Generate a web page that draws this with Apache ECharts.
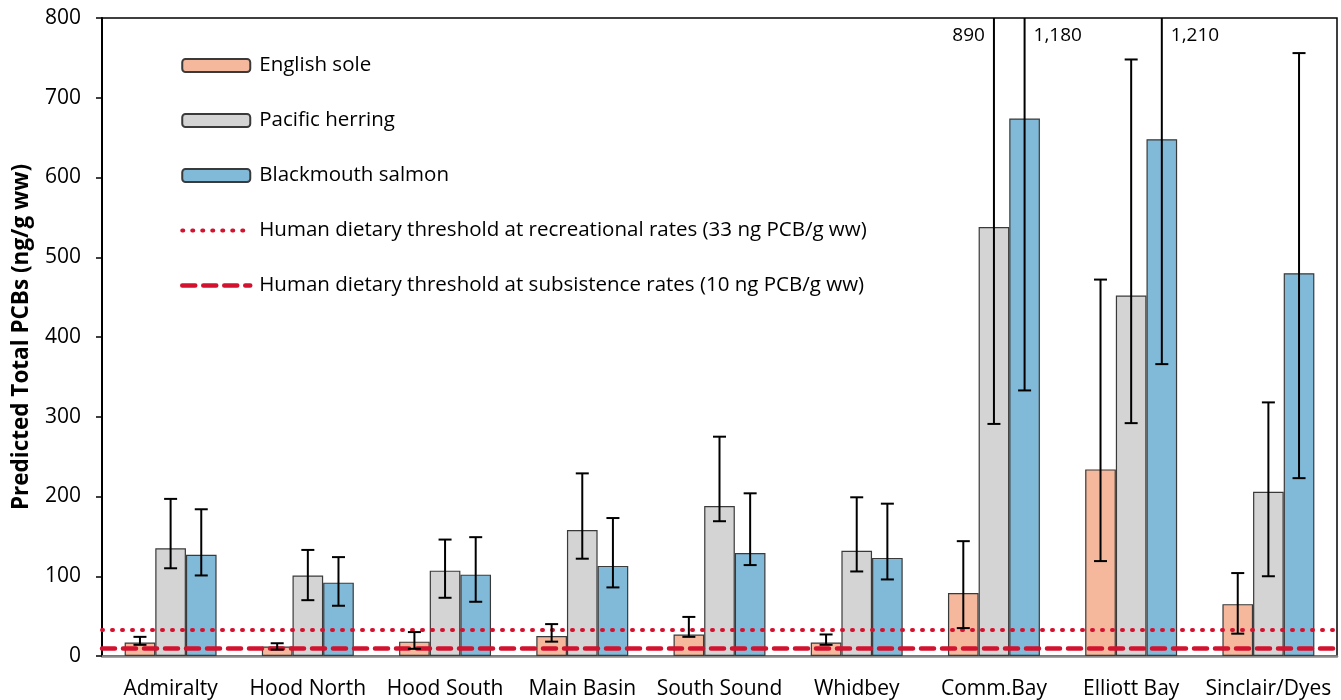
<!DOCTYPE html>
<html>
<head>
<meta charset="utf-8">
<script src="https://cdn.jsdelivr.net/npm/echarts@6/dist/echarts.min.js"></script>
<style>
  html, body { margin: 0; padding: 0; background: #fff; }
  #chart { width: 1341px; height: 700px; }
</style>
</head>
<body>
<div id="chart"></div>
<script>
// basins
var categories = ['Admiralty', 'Hood North', 'Hood South', 'Main Basin', 'South Sound', 'Whidbey', 'Comm.Bay', 'Elliott Bay', 'Sinclair/Dyes'];

// English sole
var sole = [17, 12, 18, 25, 27, 17, 79, 234, 65];
var soleLo = [14, 8, 9, 18, 24, 14, 35, 119, 28];
var soleHi = [24, 16, 30, 40, 49, 27, 144, 472, 104];

// Pacific herring
var herring = [135, 101, 107, 158, 188, 132, 538, 452, 206];
var herringLo = [110, 70, 73, 122, 169, 106, 291, 292, 100];
var herringHi = [197, 133, 146, 229, 275, 199, 890, 748, 318];

// Blackmouth salmon
var salmon = [127, 92, 102, 113, 129, 123, 674, 648, 480];
var salmonLo = [101, 63, 68, 86, 114, 96, 333, 366, 223];
var salmonHi = [184, 124, 149, 173, 204, 191, 1180, 1210, 756];

// thresholds (ng PCB/g ww)
var recreational = 33;
var subsistence = 10;

var yMax = 800;
var FONT = 'Open Sans';
var RED = '#D2122E';
var recName = 'Human dietary threshold at recreational rates (33 ng PCB/g ww)';
var subName = 'Human dietary threshold at subsistence rates (10 ng PCB/g ww)';

var chart = echarts.init(document.getElementById('chart'));

// error bars drawn on top of the bars, slot = position in the group
function errorBars(lo, hi, slot) {
  var data = categories.map(function (c, i) { return [i, lo[i], hi[i]]; });
  return {
    type: 'custom',
    silent: true,
    clip: true,
    z: 5,
    data: data,
    encode: { x: 0, y: [1, 2] },
    renderItem: function (params, api) {
      var i = api.value(0);
      var band = api.size([1, 0])[0];
      var bw = band * 0.67 / 3;
      var x = api.coord([i, 0])[0] + (slot - 1) * bw;
      var lowV = api.value(1), highV = api.value(2);
      var yLo = api.coord([i, lowV])[1];
      var yHi = api.coord([i, Math.min(highV, yMax)])[1];
      var cap = 6.5;
      var st = { stroke: '#000', lineWidth: 2 };
      var kids = [
        { type: 'line', shape: { x1: x, y1: yLo, x2: x, y2: yHi }, style: st },
        { type: 'line', shape: { x1: x - cap, y1: yLo, x2: x + cap, y2: yLo }, style: st }
      ];
      if (highV <= yMax) {
        kids.push({ type: 'line', shape: { x1: x - cap, y1: yHi, x2: x + cap, y2: yHi }, style: st });
      } else {
        // whisker runs off the top: write its value next to it
        var left = slot === 1;
        kids.push({
          type: 'text',
          style: {
            x: left ? x - 9 : x + 9,
            y: params.coordSys.y + 18,
            text: echarts.format.addCommas(highV),
            align: left ? 'right' : 'left',
            verticalAlign: 'middle',
            fill: '#000',
            font: '19px "' + FONT + '"'
          }
        });
      }
      return { type: 'group', children: kids };
    }
  };
}

function barSeries(name, data, color) {
  return {
    name: name,
    type: 'bar',
    data: data,
    barGap: 0,
    barCategoryGap: '33%',
    itemStyle: { color: color, borderColor: '#3a3a3a', borderWidth: 1.2 }
  };
}

function thresholdSeries(name, value, dash, width) {
  return {
    name: name,
    type: 'line',
    data: [],
    symbol: 'none',
    itemStyle: { color: RED },
    lineStyle: { color: RED, type: dash, width: width, cap: 'round' },
    markLine: {
      silent: true,
      symbol: 'none',
      label: { show: false },
      lineStyle: { color: RED, type: dash, width: width, cap: 'round' },
      data: [{ yAxis: value }]
    },
    z: 6
  };
}

var option = {
  animation: false,
  textStyle: { fontFamily: FONT },
  grid: {
    left: 102, right: 4, top: 18, bottom: 43,
    show: true, borderColor: '#000', borderWidth: 1.5
  },
  legend: {
    orient: 'vertical',
    left: 175,
    top: 50,
    itemWidth: 68,
    itemHeight: 13,
    itemGap: 34,
    textStyle: { fontSize: 20.5, color: '#000', fontFamily: FONT, padding: [0, 0, 0, 4] },
    data: ['English sole', 'Pacific herring', 'Blackmouth salmon',
      { name: recName, itemStyle: { opacity: 0 }, lineStyle: { width: 4, type: [1, 9], cap: 'round' } },
      { name: subName, itemStyle: { opacity: 0 }, lineStyle: { width: 4.5, type: [13, 8] } }]
  },
  xAxis: {
    type: 'category',
    data: categories,
    axisLine: { lineStyle: { color: '#888', width: 2.5 } },
    axisTick: { length: 7, lineStyle: { color: '#888', width: 2 } },
    axisLabel: { fontSize: 21, color: '#000', margin: 23, interval: 0, hideOverlap: false }
  },
  yAxis: {
    type: 'value',
    min: 0,
    max: yMax,
    interval: 100,
    name: 'Predicted Total PCBs (ng/g ww)',
    nameLocation: 'middle',
    nameGap: 69,
    nameTextStyle: { fontSize: 22.5, fontWeight: 'bold', color: '#000' },
    splitLine: { show: false },
    axisLine: { show: true, lineStyle: { color: '#000', width: 2 } },
    axisTick: { show: true, length: 6, lineStyle: { color: '#000', width: 1.5 } },
    axisLabel: { fontSize: 21, color: '#000', margin: 21 }
  },
  series: [
    barSeries('English sole', sole, '#F5B89C'),
    barSeries('Pacific herring', herring, '#D4D4D4'),
    barSeries('Blackmouth salmon', salmon, '#80BAD8'),
    errorBars(soleLo, soleHi, 0),
    errorBars(herringLo, herringHi, 1),
    errorBars(salmonLo, salmonHi, 2),
    thresholdSeries(recName, recreational, [1, 9], 4),
    thresholdSeries(subName, subsistence, [13, 8], 4.5)
  ]
};

chart.setOption(option);
</script>
</body>
</html>
